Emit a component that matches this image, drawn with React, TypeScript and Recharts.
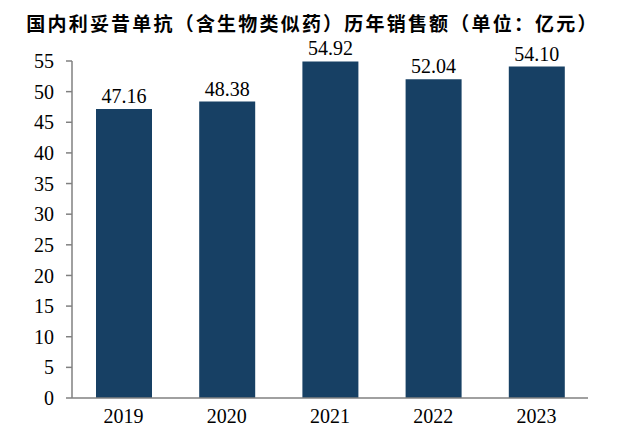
import React from 'react';
import { BarChart, Bar, XAxis, YAxis, LabelList } from 'recharts';

const years = ['2019', '2020', '2021', '2022', '2023'];
const sales = [47.16, 48.38, 54.92, 52.04, 54.1];
const yTicks = [0, 5, 10, 15, 20, 25, 30, 35, 40, 45, 50, 55];

const data = years.map((year, i) => ({ year, value: sales[i] }));

const serif = 'Liberation Serif, Times New Roman, serif';

const XTick = (props: any) => {
  const { x, y, payload } = props;
  return (
    <text x={x} y={y} dy="0.71em" textAnchor="middle" fill="#000" fontSize={20} fontFamily={serif}>
      {payload.value}
    </text>
  );
};

const YTick = (props: any) => {
  const { x, y, payload } = props;
  return (
    <text x={x} y={y} dy="0.355em" textAnchor="end" fill="#000" fontSize={20} fontFamily={serif}>
      {payload.value}
    </text>
  );
};

export default function App() {
  return (
    <div
      style={{
        position: 'absolute',
        left: 0,
        top: 0,
        width: 625,
        height: 434,
        background: '#fff',
        fontFamily: serif,
      }}
    >
      <div
        style={{
          position: 'absolute',
          left: 0,
          top: 11,
          width: 625,
          textAlign: 'center',
          fontFamily: '"Noto Sans CJK SC", sans-serif',
          fontWeight: 700,
          fontSize: 19,
          letterSpacing: 2.2,
          color: '#000',
          lineHeight: '24px',
        }}
      >
        国内利妥昔单抗（含生物类似药）历年销售额（单位：亿元）
      </div>
      <BarChart
        width={625}
        height={434}
        data={data}
        margin={{ top: 61, right: 37, bottom: 0, left: 0 }}
      >
        <XAxis
          dataKey="year"
          height={36}
          tickLine={false}
          tickMargin={5}
          axisLine={{ stroke: '#808080', strokeWidth: 1.5 }}
          tick={<XTick />}
        />
        <YAxis
          width={72}
          domain={[0, 55]}
          ticks={yTicks}
          interval={0}
          tickSize={6}
          tickMargin={12}
          axisLine={{ stroke: '#808080', strokeWidth: 1.5 }}
          tickLine={{ stroke: '#808080', strokeWidth: 1.5 }}
          tick={<YTick />}
        />
        <Bar dataKey="value" fill="#174064" barSize={56} isAnimationActive={false}>
          <LabelList
            dataKey="value"
            position="top"
            offset={6}
            formatter={(v: number) => v.toFixed(2)}
            style={{ fill: '#000', fontSize: 20, fontFamily: serif }}
          />
        </Bar>
      </BarChart>
    </div>
  );
}
